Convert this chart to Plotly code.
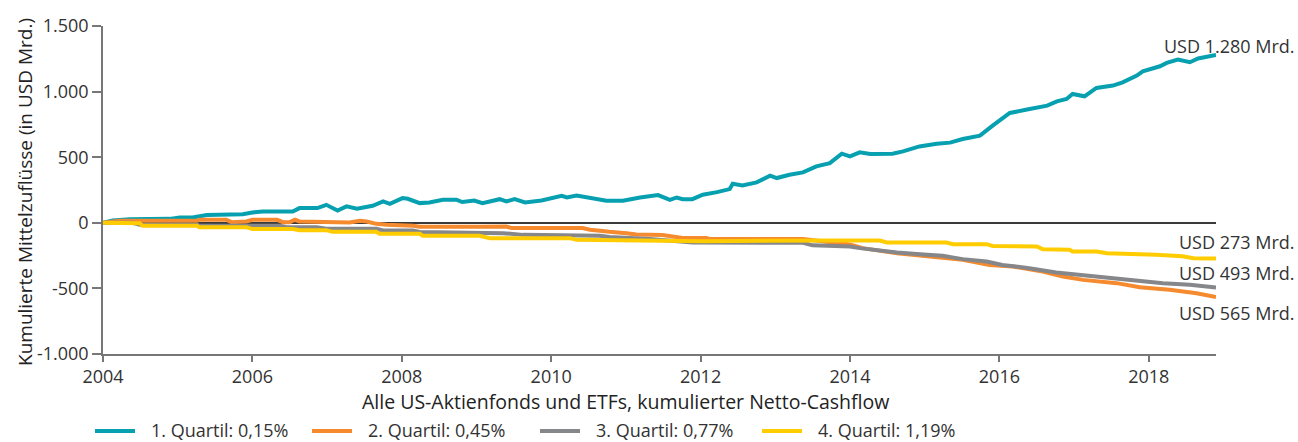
import plotly.graph_objects as go

# ---------------- data ----------------
series_names = ["1. Quartil: 0,15%", "2. Quartil: 0,45%", "3. Quartil: 0,77%", "4. Quartil: 1,19%"]
series_colors = ["#06A0B0", "#F58A2E", "#86878A", "#FFCC00"]

q1_x = [2004.0, 2004.13, 2004.36, 2004.89, 2005.03, 2005.20, 2005.39, 2005.87, 2006.0, 2006.14,
        2006.54, 2006.63, 2006.87, 2006.99, 2007.14, 2007.26, 2007.40, 2007.53, 2007.61, 2007.75,
        2007.84, 2008.01, 2008.08, 2008.24, 2008.37, 2008.55, 2008.73, 2008.81, 2008.97, 2009.08,
        2009.31, 2009.40, 2009.51, 2009.65, 2009.87, 2010.14, 2010.21, 2010.34, 2010.56, 2010.74,
        2010.96, 2011.19, 2011.43, 2011.59, 2011.68, 2011.76, 2011.89, 2012.03, 2012.22, 2012.39,
        2012.43, 2012.56, 2012.75, 2012.93, 2013.02, 2013.19, 2013.37, 2013.55, 2013.73, 2013.89,
        2014.0, 2014.13, 2014.27, 2014.57, 2014.71, 2014.93, 2015.16, 2015.34, 2015.51, 2015.74,
        2015.91, 2016.14, 2016.37, 2016.64, 2016.77, 2016.90, 2016.98, 2017.14, 2017.30, 2017.52,
        2017.65, 2017.84, 2017.92, 2018.15, 2018.24, 2018.39, 2018.55, 2018.66, 2018.90]
q1_y = [0, 18, 28, 30, 40, 40, 59, 66, 79, 86,
        86, 112, 112, 137, 94, 125, 107, 118, 130, 163,
        145, 188, 183, 150, 155, 176, 176, 158, 170, 150,
        180, 163, 180, 155, 170, 206, 193, 208, 185, 168,
        168, 193, 211, 175, 193, 180, 180, 214, 234, 257,
        298, 285, 308, 359, 341, 366, 384, 430, 455, 527,
        506, 537, 524, 527, 544, 582, 603, 611, 639, 664,
        740, 837, 863, 893, 926, 944, 982, 964, 1028, 1046,
        1071, 1122, 1155, 1193, 1219, 1244, 1224, 1252, 1280]

q2_x = [2004.0, 2004.22, 2005.26, 2005.29, 2005.65, 2005.72, 2005.92, 2006.0, 2006.33, 2006.41,
        2006.50, 2006.57, 2006.63, 2006.99, 2007.07, 2007.30, 2007.44, 2007.53, 2007.66, 2007.80,
        2008.15, 2008.24, 2009.04, 2009.40, 2009.47, 2010.42, 2010.52, 2010.69, 2010.78, 2011.01,
        2011.14, 2011.49, 2011.59, 2011.76, 2012.08, 2012.12, 2013.37, 2013.46, 2013.82, 2014.0,
        2014.17, 2014.63, 2015.07, 2015.51, 2015.87, 2016.18, 2016.58, 2016.85, 2017.12, 2017.57,
        2017.88, 2018.28, 2018.64, 2018.90]
q2_y = [0, 15, 15, 23, 23, 5, 10, 23, 23, 5,
        5, 23, 10, 10, 3, 3, 15, 10, -8, -15,
        -23, -30, -30, -28, -40, -40, -53, -59, -69, -79,
        -89, -93, -104, -115, -115, -124, -124, -130, -150, -165,
        -193, -232, -257, -282, -321, -333, -372, -410, -435, -460,
        -491, -511, -537, -565]

q3_x = [2004.0, 2004.40, 2004.49, 2005.26, 2005.29, 2006.37, 2006.46, 2006.86, 2006.99, 2007.66,
        2007.75, 2008.15, 2008.24, 2009.04, 2009.35, 2009.62, 2010.65, 2010.78, 2011.32, 2011.89,
        2013.37, 2013.50, 2013.82, 2014.0, 2014.13, 2014.63, 2015.03, 2015.24, 2015.51, 2015.83,
        2016.04, 2016.40, 2016.76, 2017.07, 2017.43, 2017.88, 2018.19, 2018.55, 2018.90]
q3_y = [0, 0, -15, -15, -23, -23, -33, -33, -46, -46,
        -59, -59, -70, -75, -79, -92, -99, -109, -124, -150,
        -152, -172, -180, -180, -193, -227, -244, -252, -277, -295,
        -321, -346, -379, -397, -422, -443, -460, -473, -493]

q4_x = [2004.0, 2004.49, 2004.53, 2005.26, 2005.29, 2005.92, 2006.0, 2006.54, 2006.63, 2006.99,
        2007.07, 2007.66, 2007.70, 2008.24, 2008.28, 2009.04, 2009.18, 2010.25, 2010.34, 2011.32,
        2012.03, 2013.73, 2014.40, 2014.49, 2015.29, 2015.38, 2015.83, 2015.91, 2016.50, 2016.58,
        2016.94, 2016.98, 2017.30, 2017.44, 2017.74, 2018.10, 2018.45, 2018.60, 2018.90]
q4_y = [0, -3, -23, -23, -33, -33, -48, -48, -56, -56,
        -69, -69, -84, -84, -99, -99, -117, -117, -130, -135,
        -140, -135, -135, -150, -150, -163, -163, -176, -180, -201,
        -205, -219, -219, -232, -235, -244, -255, -270, -273]

y_tick_vals = [-1000, -500, 0, 500, 1000, 1500]
y_tick_text = ["-1.000", "-500", "0", "500", "1.000", "1.500"]
x_tick_vals = [2004, 2006, 2008, 2010, 2012, 2014, 2016, 2018]
x_tick_text = ["2004", "2006", "2008", "2010", "2012", "2014", "2016", "2018"]

end_labels = ["USD 1.280 Mrd.", "USD 273 Mrd.", "USD 493 Mrd.", "USD 565 Mrd."]

x_title = "Alle US-Aktienfonds und ETFs, kumulierter Netto-Cashflow"
y_title = "Kumulierte Mittelzuflüsse (in USD Mrd.)"

# ---------------- figure ----------------
W, H = 1298, 442
ML, MR, MT, MB = 103, 82, 26, 88
PW, PH = W - ML - MR, H - MT - MB


def px_x(p):
    return (p - ML) / PW


def px_y(p):
    return (H - MB - p) / PH


FONT = "Open Sans, Liberation Sans, Arial, sans-serif"
TXT = "#333333"

fig = go.Figure()
for xs, ys, name, col in zip([q1_x, q2_x, q3_x, q4_x], [q1_y, q2_y, q3_y, q4_y],
                             series_names, series_colors):
    fig.add_trace(go.Scatter(x=xs, y=ys, mode="lines", name=name,
                             line=dict(color=col, width=4),
                             showlegend=False, hoverinfo="skip"))

fig.update_layout(
    width=W, height=H,
    margin=dict(l=ML, r=MR, t=MT, b=MB, pad=0, autoexpand=False),
    paper_bgcolor="white", plot_bgcolor="white",
    font=dict(family=FONT, size=18, color=TXT),
    showlegend=False,
    xaxis=dict(range=[2004, 2018.9], tickvals=x_tick_vals, ticktext=x_tick_text,
               showgrid=False, zeroline=False, showline=True, linecolor="#777777", linewidth=1.5,
               ticks="outside", ticklen=6, tickwidth=1.5, tickcolor="#777777",
               tickfont=dict(size=18, color=TXT)),
    yaxis=dict(range=[-1000, 1500], tickvals=y_tick_vals, ticktext=y_tick_text,
               showgrid=False, zeroline=True, zerolinecolor="#3a3a3a", zerolinewidth=1.5,
               showline=True, linecolor="#777777", linewidth=1.5,
               ticks="outside", ticklen=9, tickwidth=1.5, tickcolor="#777777",
               tickfont=dict(size=18, color=TXT)),
)

# legend (line swatch + label per series)
legend_px = [95, 312, 540, 762]
legend_y = 430
for name, col, lx in zip(series_names, series_colors, legend_px):
    fig.add_shape(type="line", xref="paper", yref="paper",
                  x0=px_x(lx), x1=px_x(lx + 40), y0=px_y(legend_y + 1), y1=px_y(legend_y + 1),
                  line=dict(color=col, width=4))
    fig.add_annotation(text=name, xref="paper", yref="paper", x=px_x(lx + 54), y=px_y(legend_y),
                       xanchor="left", yanchor="middle", showarrow=False,
                       font=dict(size=18, color=TXT))

# axis titles
fig.add_annotation(text=x_title, xref="paper", yref="paper", x=px_x(625), y=px_y(401),
                   xanchor="center", yanchor="middle", showarrow=False,
                   font=dict(size=19.5, color="#222222"))
fig.add_annotation(text=y_title, xref="paper", yref="paper", x=px_x(25), y=px_y(192),
                   xanchor="center", yanchor="middle", showarrow=False, textangle=-90,
                   font=dict(size=19, color="#222222"))

# end-value labels
label_y_px = [46, 242, 273, 313]
for txt, ypx in zip(end_labels, label_y_px):
    fig.add_annotation(text=txt, xref="paper", yref="paper", x=px_x(1297), y=px_y(ypx),
                       xanchor="right", yanchor="middle", showarrow=False,
                       font=dict(size=18, color=TXT))

fig.write_html("out.html", config={"displayModeBar": False},
               post_script="document.body.style.margin='0';")
